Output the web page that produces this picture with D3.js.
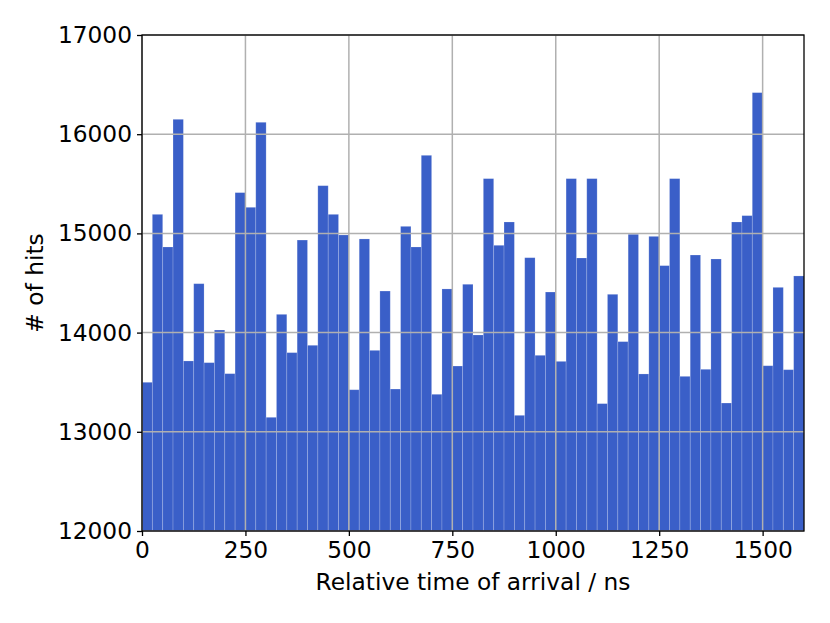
<!DOCTYPE html>
<html><head><meta charset="utf-8">
<script src="https://cdn.jsdelivr.net/npm/d3@7"></script>
<style>body{margin:0;background:#fff}text{font-family:"DejaVu Sans",sans-serif;fill:#000}</style>
</head><body><svg id="c" width="830" height="623"></svg>
<script>
const binWidth = 25;
const counts = [13499,15192,14863,16150,13714,14493,13697,14026,13586,15411,
15263,16120,13146,14184,13798,14933,13872,15481,15192,14984,
13424,14944,13821,14419,13431,15071,14863,15787,13378,14440,
13663,14487,13976,15552,14880,15115,13166,14755,13771,14409,
13710,15552,14752,15552,13284,14386,13909,14991,13583,14970,
14675,15552,13559,14782,13630,14742,13290,15115,15179,16419,
13666,14456,13626,14571];
const xTicks = [0,250,500,750,1000,1250,1500];
const yTicks = [12000,13000,14000,15000,16000,17000];
const xLabel = "Relative time of arrival / ns";
const yLabel = "# of hits";

const svg = d3.select("#c");
const m = {l:142, r:804, t:35, b:531};
const fs = 23.3;
const x = d3.scaleLinear().domain([0,1600]).range([m.l,m.r]);
const y = d3.scaleLinear().domain([12000,17000]).range([m.b,m.t]);

svg.append("g").selectAll("rect").data(counts).join("rect")
  .attr("x",(d,i)=>x(i*binWidth))
  .attr("width",(d,i)=>x((i+1)*binWidth)-x(i*binWidth))
  .attr("y",d=>y(d)).attr("height",d=>m.b-y(d))
  .attr("fill","#3a5fc8").attr("stroke","rgba(255,255,255,0.22)").attr("stroke-width",0.8);

const grid = svg.append("g").attr("stroke","#b0b0b0").attr("stroke-width",1.5);
grid.selectAll(".gx").data(xTicks).join("line").attr("x1",d=>x(d)).attr("x2",d=>x(d)).attr("y1",m.t).attr("y2",m.b);
grid.selectAll(".gy").data(yTicks).join("line").attr("y1",d=>y(d)).attr("y2",d=>y(d)).attr("x1",m.l).attr("x2",m.r);

const xa = svg.append("g").attr("transform",`translate(0,${m.b})`)
  .call(d3.axisBottom(x).tickValues(xTicks).tickSize(5).tickPadding(5).tickFormat(d3.format("d")));
const ya = svg.append("g").attr("transform",`translate(${m.l},0)`)
  .call(d3.axisLeft(y).tickValues(yTicks).tickSize(5).tickPadding(5).tickFormat(d3.format("d")));
[xa,ya].forEach(a=>{a.select(".domain").remove();a.selectAll("line").attr("stroke","#000").attr("stroke-width",1.3);
  a.selectAll("text").attr("font-family","DejaVu Sans").attr("font-size",fs).attr("fill","#000");});

svg.append("rect").attr("x",m.l).attr("y",m.t).attr("width",m.r-m.l).attr("height",m.b-m.t)
  .attr("fill","none").attr("stroke","#000").attr("stroke-width",1.3);

svg.append("text").attr("x",(m.l+m.r)/2).attr("y",590).attr("text-anchor","middle").attr("font-size",fs).text(xLabel);
svg.append("text").attr("transform",`translate(43,${(m.t+m.b)/2}) rotate(-90)`).attr("text-anchor","middle").attr("font-size",fs).text(yLabel);
</script></body></html>
